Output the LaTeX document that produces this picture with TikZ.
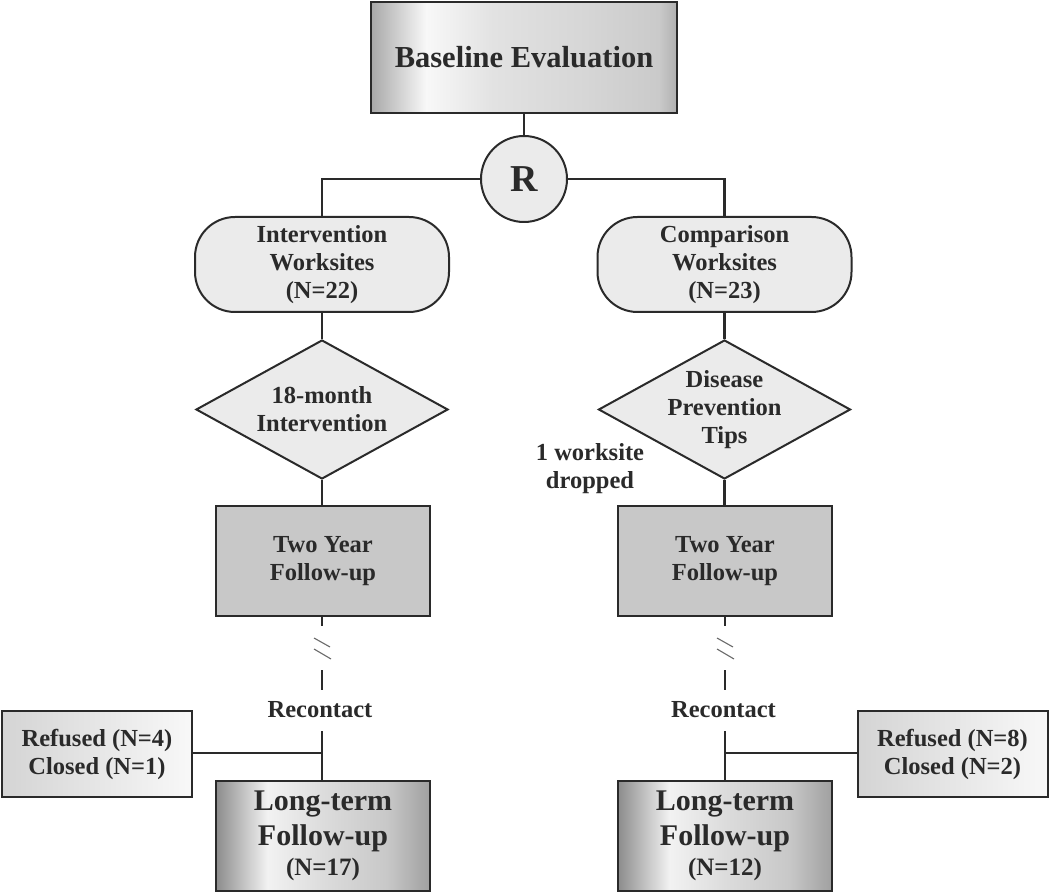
\documentclass[tikz,border=0pt]{standalone}
\usepackage{fontspec}
\setmainfont{Liberation Serif}
\usetikzlibrary{shapes.geometric}
\definecolor{bA}{HTML}{A8A8A8}
\definecolor{bB}{HTML}{F8F8F8}
\definecolor{bC}{HTML}{E2E2E2}
\definecolor{bD}{HTML}{D6D6D6}
\definecolor{bE}{HTML}{CACACA}
\definecolor{bF}{HTML}{B0B0B0}
\definecolor{lA}{HTML}{8C8C8C}
\definecolor{lB}{HTML}{F2F2F2}
\definecolor{lC}{HTML}{DCDCDC}
\definecolor{lD}{HTML}{C8C8C8}
\definecolor{lE}{HTML}{A0A0A0}
\definecolor{rA}{HTML}{D4D4D4}
\definecolor{rB}{HTML}{F8F8F8}
\definecolor{lightfill}{HTML}{EBEBEB}
\definecolor{midfill}{HTML}{C8C8C8}
\definecolor{ink}{HTML}{2A2A2A}
\pgfdeclarehorizontalshading{basegrad}{100bp}{color(0bp)=(bA); color(25bp)=(bA); color(34bp)=(bB); color(45bp)=(bC); color(60bp)=(bD); color(72bp)=(bE); color(75bp)=(bF); color(100bp)=(bF)}
\pgfdeclarehorizontalshading{ltgrad}{100bp}{color(0bp)=(lA); color(25bp)=(lA); color(37bp)=(lB); color(50bp)=(lC); color(65bp)=(lD); color(75bp)=(lE); color(100bp)=(lE)}
\pgfdeclarehorizontalshading{rfgrad}{100bp}{color(0bp)=(rA); color(25bp)=(rA); color(75bp)=(rB); color(100bp)=(rB)}
\tikzset{
  x=1pt, y=-1pt,
  txt/.style={font=\bfseries\fontsize{24.5}{28}\selectfont, align=center, text=ink},
  boxline/.style={draw=ink, line width=2pt},
  conn/.style={draw=ink, line width=2.4pt},
  basebox/.style={boxline, shading=basegrad, minimum width=306pt, minimum height=111pt, inner sep=0pt, font=\bfseries\fontsize{30.5}{35}\selectfont, text=ink},
  rnode/.style={boxline, circle, fill=lightfill, minimum size=86pt, inner sep=0pt, font=\bfseries\fontsize{38}{44}\selectfont, text=ink},
  sitebox/.style={boxline, txt, fill=lightfill, rectangle, rounded corners=40pt, minimum width=254pt, minimum height=95pt, inner sep=0pt},
  dia/.style={boxline, diamond, fill=lightfill, minimum width=252pt, minimum height=139pt, inner sep=0pt},
  twobox/.style={boxline, txt, fill=midfill, minimum width=214pt, minimum height=110pt, inner sep=0pt},
  ltbox/.style={boxline, shading=ltgrad, minimum width=214pt, minimum height=110pt, inner sep=0pt, align=center, text=ink, font=\bfseries\fontsize{30}{35}\selectfont},
  rfbox/.style={boxline, txt, shading=rfgrad, minimum width=190pt, minimum height=86pt, inner sep=0pt},
  brk/.style={draw=ink!70, line width=1.1pt}
}
\begin{document}
\begin{tikzpicture}
\useasboundingbox (0,0) rectangle (1050,893);
% nodes
\node[basebox] (base) at (524,57.5) {Baseline Evaluation};
\node[rnode] (R) at (524,179) {R};
\node[sitebox] (iw) at (322,264.5) {Intervention\\Worksites\\(N=22)};
\node[sitebox] (cw) at (724.5,264.5) {Comparison\\Worksites\\(N=23)};
\node[dia] (d1) at (322,409.5) {};
\node[txt] (d1t) at (d1.center) {18-month\\Intervention};
\node[dia] (d2) at (724.5,409.5) {};
\node[txt] (d2t) at (d2.center) {Disease\\Prevention\\Tips};
\node[txt] (drop) at (590,469) {1 worksite\\dropped};
\node[twobox] (tw1) at (323,561) {Two Year\\Follow-up};
\node[twobox] (tw2) at (725,561) {Two Year\\Follow-up};
\node[txt] (rc1) at (320,710) {Recontact};
\node[txt] (rc2) at (723.5,710) {Recontact};
\node[rfbox] (rf1) at (97,754) {Refused (N=4)\\Closed (N=1)};
\node[rfbox] (rf2) at (952.5,754) {Refused (N=8)\\Closed (N=2)};
\node[ltbox] (lt1) at (323,836) {Long-term\\Follow-up\\[-5pt]{\fontsize{25}{30}\selectfont (N=17)}};
\node[ltbox] (lt2) at (725,836) {Long-term\\Follow-up\\[-5pt]{\fontsize{25}{30}\selectfont (N=12)}};
% coordinates on the verticals
\coordinate (a1) at (322,626);
\coordinate (s1) at (322,670);
\coordinate (e1) at (322,690);
\coordinate (t1) at (322,731);
\coordinate (j1) at (322,753);
\coordinate (a2) at (725,626);
\coordinate (s2) at (725,670);
\coordinate (e2) at (725,690);
\coordinate (t2) at (725,731);
\coordinate (j2) at (725,753);
% connectors
\draw[conn] (base.south) -- (R.north);
\draw[conn] (R.west) -| (iw.north);
\draw[conn] (R.east) -| (cw.north);
\draw[conn] (iw.south) -- (d1.north);
\draw[conn] (cw.south) -- (d2.north);
\draw[conn] (d1.south) -- (d1.south |- tw1.north);
\draw[conn] (d2.south) -- (d2.south |- tw2.north);
\draw[conn] (tw1.south -| a1) -- (a1);
\draw[conn] (s1) -- (e1);
\draw[conn] (t1) -- (t1 |- lt1.north);
\draw[conn] (rf1.east |- j1) -- (j1);
\draw[conn] (tw2.south -| a2) -- (a2);
\draw[conn] (s2) -- (e2);
\draw[conn] (t2) -- (t2 |- lt2.north);
\draw[conn] (rf2.west |- j2) -- (j2);
% break marks
\draw[brk] (314,638) -- (330,647);
\draw[brk] (314,649) -- (331,659);
\draw[brk] (717,638) -- (733,647);
\draw[brk] (717,649) -- (734,659);
\end{tikzpicture}
\end{document}
